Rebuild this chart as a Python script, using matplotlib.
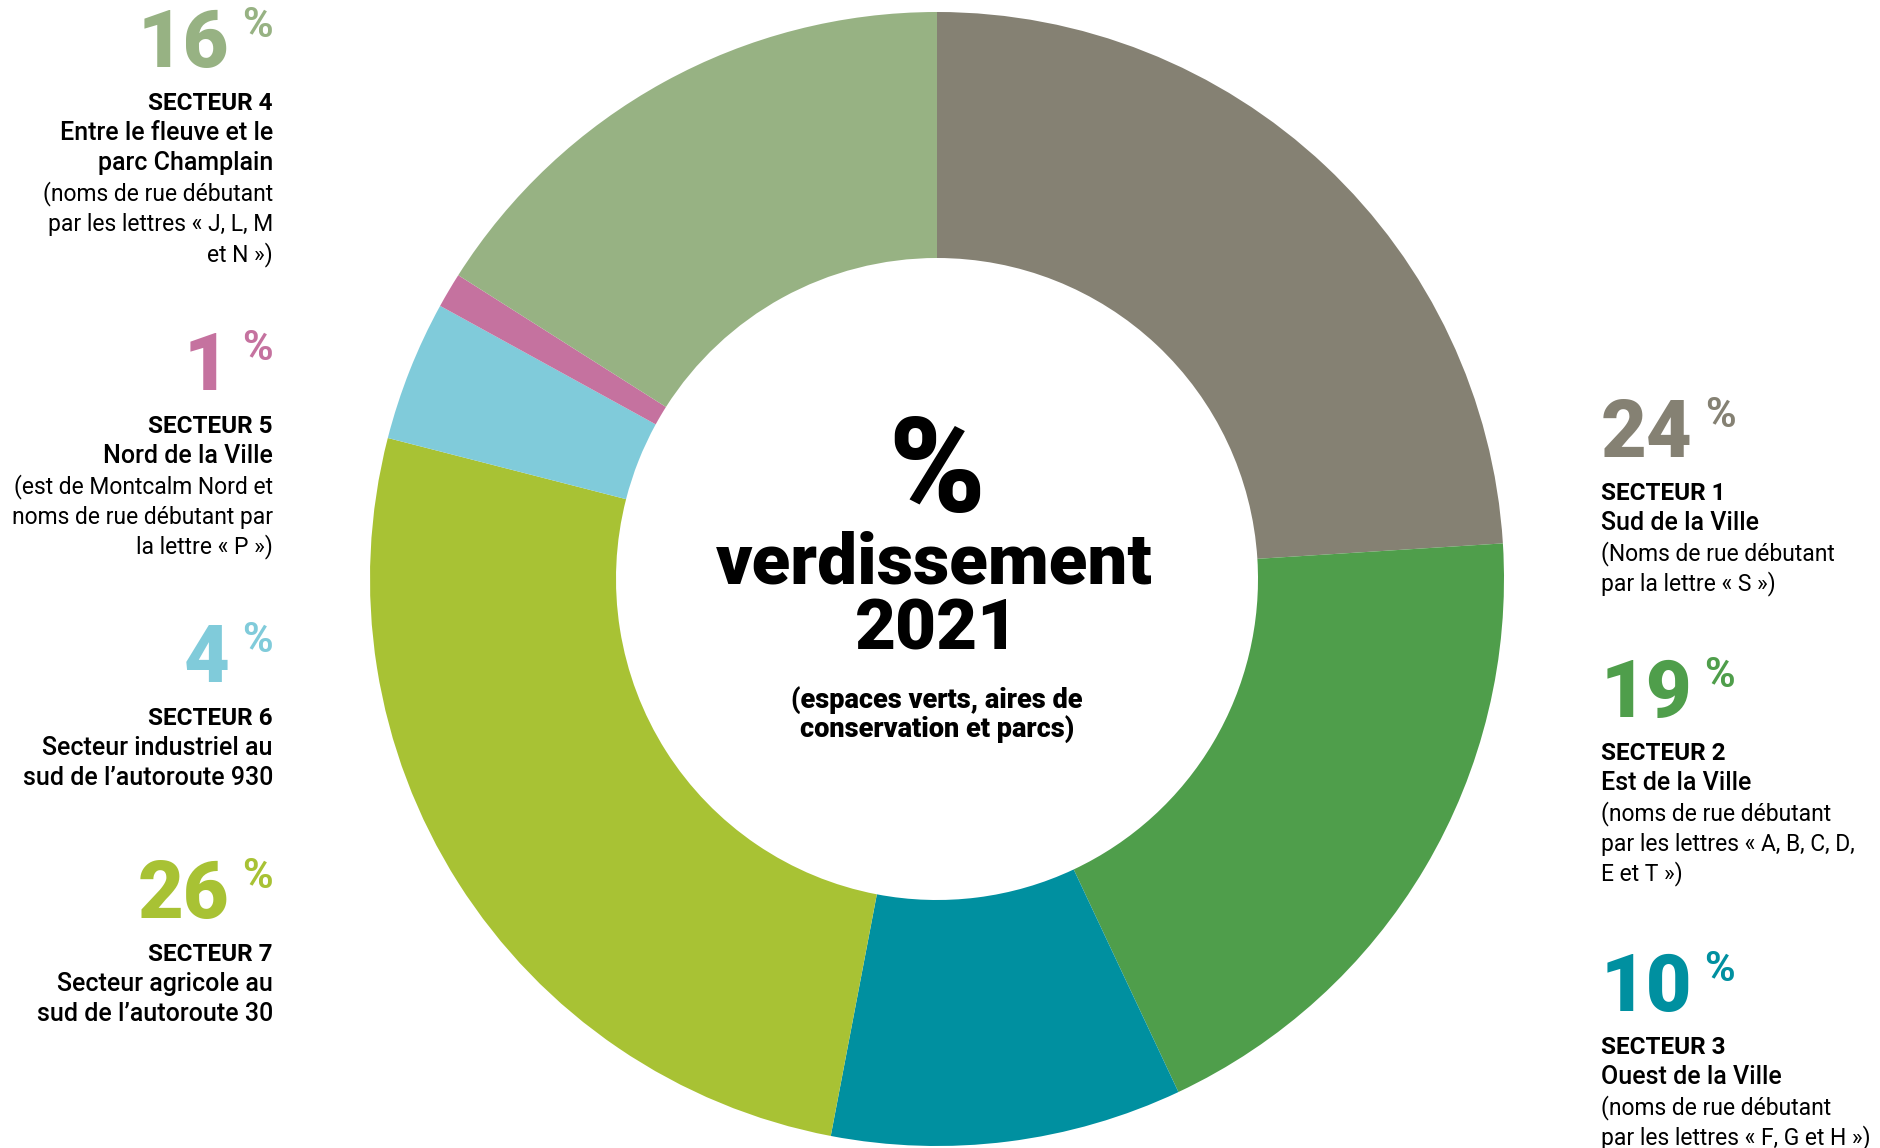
import matplotlib
matplotlib.use("Agg")
from matplotlib import pyplot as plt

# pie order, clockwise from the top
sectors = ["SECTEUR 1", "SECTEUR 2", "SECTEUR 3", "SECTEUR 7", "SECTEUR 6", "SECTEUR 5", "SECTEUR 4"]
percents = [24, 19, 10, 26, 4, 1, 16]
colors = ["#858173", "#4f9e4b", "#0090a0", "#a8c234", "#80cbda", "#c5729f", "#97b283"]
subtitles = [
    ["Sud de la Ville"],
    ["Est de la Ville"],
    ["Ouest de la Ville"],
    ["Secteur agricole au", "sud de l’autoroute 30"],
    ["Secteur industriel au", "sud de l’autoroute 930"],
    ["Nord de la Ville"],
    ["Entre le fleuve et le", "parc Champlain"],
]
notes = [
    ["(Noms de rue débutant", "par la lettre « S »)"],
    ["(noms de rue débutant", "par les lettres « A, B, C, D,", "E et T »)"],
    ["(noms de rue débutant", "par les lettres « F, G et H »)"],
    [],
    [],
    ["(est de Montcalm Nord et", "noms de rue débutant par", "la lettre « P »)"],
    ["(noms de rue débutant", "par les lettres « J, L, M", "et N »)"],
]
center_title = ["%", "verdissement", "2021"]
center_note = ["(espaces verts, aires de", "conservation et parcs)"]

W, H = 1881, 1148
FONT = ["Roboto", "DejaVu Sans"]

# label block layout: side and baseline of the big number (pixels from top)
side = ["right", "right", "right", "left", "left", "left", "left"]
num_base = [457, 717, 1011, 918, 682, 390, 67]

fig = plt.figure(figsize=(W / 100, H / 100), dpi=100)
ax = fig.add_axes([0, 0, 1, 1])

def Y(y):
    return H - y

ax.pie(percents, colors=colors, startangle=90, counterclock=False,
       radius=567, center=(937, Y(579)),
       wedgeprops=dict(width=567 - 321, edgecolor="none"))
ax.set_xlim(0, W)
ax.set_ylim(0, H)
ax.set_aspect("equal")
ax.axis("off")

# centre text
ax.text(937, Y(512), center_title[0], ha="center", va="baseline",
        fontsize=94, fontweight="black", family=FONT)
ax.text(934, Y(583), center_title[1], ha="center", va="baseline",
        fontsize=51, fontweight="black", family=FONT)
ax.text(937, Y(650), center_title[2], ha="center", va="baseline",
        fontsize=51, fontweight="black", family=FONT)
for i, line in enumerate(center_note):
    ax.text(937, Y(708 + 29 * i), line, ha="center", va="baseline",
            fontsize=19.5, fontweight="black", family=FONT)

renderer = fig.canvas.get_renderer()
num_style = dict(fontsize=57, fontweight="black", family=FONT)
pct_style = dict(fontsize=30, fontweight="bold", family=FONT)
line_style = {"bold": 17.5, "medium": 18, "normal": 16.5}

# side labels
for i in range(len(sectors)):
    base = num_base[i]
    c = colors[i]
    if side[i] == "right":
        x, ha = 1601, "left"
        num = ax.text(x, Y(base), str(percents[i]), ha="left", va="baseline", color=c, **num_style)
        x1 = num.get_window_extent(renderer).x1
        ax.text(x1 + 12, Y(base - 62), "%", ha="left", va="top", color=c, **pct_style)
    else:
        x, ha = 273, "right"
        pc = ax.text(x, Y(base - 62), "%", ha="right", va="top", color=c, **pct_style)
        x0 = pc.get_window_extent(renderer).x0
        ax.text(x0 - 13, Y(base), str(percents[i]), ha="right", va="baseline", color=c, **num_style)
    lines = [(sectors[i], "bold")] + [(s, "medium") for s in subtitles[i]] + [(n, "normal") for n in notes[i]]
    for j, (txt, wt) in enumerate(lines):
        ax.text(x, Y(base + 43 + 30.2 * j), txt, ha=ha, va="baseline",
                fontsize=line_style[wt], fontweight=wt, color="black", family=FONT)

fig.savefig("out.png", dpi=100)
